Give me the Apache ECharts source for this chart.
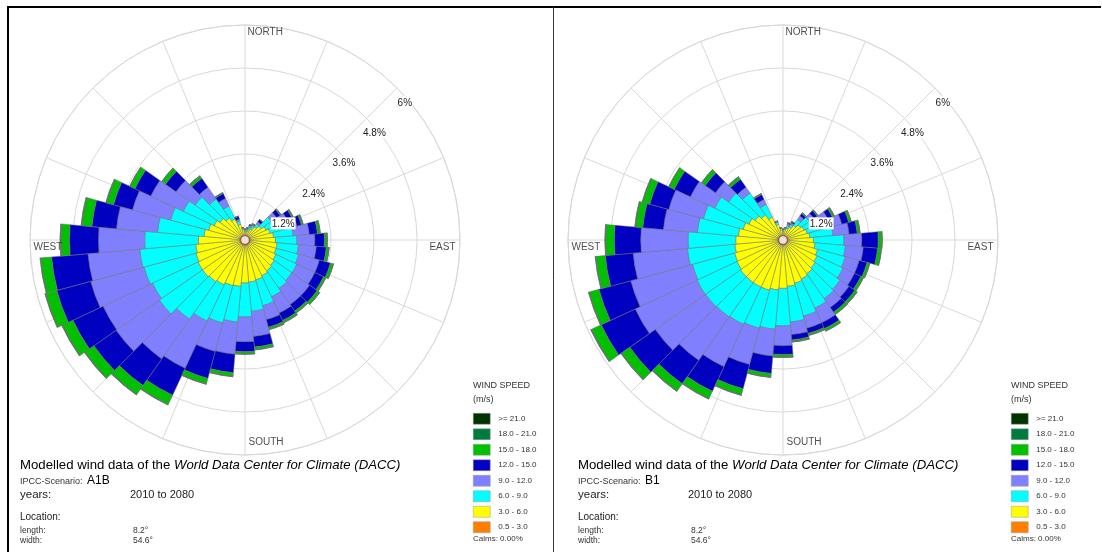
<!DOCTYPE html>
<html>
<head>
<meta charset="utf-8">
<script src="https://cdn.jsdelivr.net/npm/echarts@6/dist/echarts.min.js"></script>
<style>
html, body { margin: 0; padding: 0; background: #fff; }
#chart { width: 1102px; height: 552px; }
</style>
</head>
<body>
<div id="chart"></div>
<script>
// wind directions (sector centres, clockwise from north)
var directions = ['0°','10°','20°','30°','40°','50°','60°','70°','80°','90°','100°','110°',
    '120°','130°','140°','150°','160°','170°','180°','190°','200°','210°','220°','230°',
    '240°','250°','260°','270°','280°','290°','300°','310°','320°','330°','340°','350°'];

// wind speed classes, bottom of the stack first
var speedClasses = ['0.5 - 3.0', '3.0 - 6.0', '6.0 - 9.0', '9.0 - 12.0',
    '12.0 - 15.0', '15.0 - 18.0', '18.0 - 21.0', '>= 21.0'];
var speedColors = ['#ff8000', '#ffff00', '#00ffff', '#8080ff',
    '#0000c0', '#00c000', '#007a3d', '#003300'];

// ring ticks (% of time)
var ringMax = 6;
var ringStep = 1.2;

// compass labels
var compassNames = ['NORTH', 'EAST', 'SOUTH', 'WEST'];
var compassDirs = ['0°', '90°', '180°', '270°'];

/** A1B scenario: frequency (%) per direction for each speed class */
var a1b_05_30 = [0.12,0.12,0.12,0.12,0.12,0.15,0.15,0.15,0.15,0.15,0.15,0.15,0.15,0.15,0.15,0.15,0.15,0.15,0.15,0.15,0.15,0.15,0.15,0.15,0.15,0.15,0.15,0.15,0.15,0.15,0.15,0.15,0.15,0.15,0.12,0.12];
var a1b_30_60 = [0.13,0.13,0.18,0.23,0.33,0.40,0.50,0.57,0.65,0.70,0.75,0.75,0.80,0.85,0.90,0.95,1.00,1.03,1.05,1.15,1.17,1.23,1.27,1.30,1.30,1.27,1.23,1.15,1.00,0.90,0.80,0.70,0.60,0.50,0.33,0.18];
var a1b_60_90 = [0.03,0.05,0.08,0.10,0.10,0.35,0.40,0.48,0.55,0.60,0.60,0.65,0.65,0.60,0.60,0.65,0.75,0.82,0.95,1.00,1.08,1.12,1.28,1.47,1.40,1.50,1.57,1.50,1.30,1.10,0.95,0.85,0.65,0.40,0.10,0.03];
var a1b_90_120 = [0.02,0.03,0.04,0.03,0.07,0.18,0.25,0.30,0.45,0.50,0.50,0.60,0.55,0.60,0.55,0.50,0.40,0.70,0.69,0.90,0.82,1.45,1.35,1.47,1.52,1.54,1.45,1.29,1.15,1.10,1.00,0.65,0.40,0.23,0.05,0.02];
var a1b_120_150 = [0,0.02,0.03,0.02,0.08,0.12,0.15,0.13,0.23,0.27,0.28,0.32,0.27,0.26,0.22,0.23,0.22,0.30,0.28,0.52,0.78,0.83,0.91,0.76,0.93,0.98,1.02,0.81,0.69,0.55,0.49,0.36,0.30,0.15,0.08,0];
var a1b_150_180 = [0,0,0,0,0,0.03,0.04,0.05,0.07,0.07,0.07,0.08,0.06,0.08,0.06,0.06,0.06,0.07,0.06,0.10,0.15,0.28,0.30,0.30,0.32,0.32,0.30,0.24,0.28,0.20,0.15,0.12,0.08,0.03,0.01,0];
var a1b_180_210 = [0,0,0,0,0,0,0,0,0.01,0.01,0.01,0.01,0.01,0.01,0.01,0.01,0.01,0.01,0.01,0.01,0.02,0.02,0.02,0.02,0.02,0.02,0.02,0.02,0.02,0.02,0.01,0.01,0.01,0,0,0];
var a1b_210 = [0,0,0,0,0,0,0,0,0,0,0,0,0,0,0,0,0,0,0,0,0,0,0,0,0,0,0,0,0,0,0,0,0,0,0,0];

/** B1 scenario */
var b1_05_30 = [0.12,0.12,0.12,0.12,0.12,0.15,0.15,0.15,0.15,0.15,0.15,0.15,0.15,0.15,0.15,0.15,0.15,0.15,0.15,0.15,0.15,0.15,0.15,0.15,0.15,0.15,0.15,0.15,0.15,0.15,0.15,0.15,0.15,0.15,0.12,0.12];
var b1_30_60 = [0.13,0.18,0.23,0.28,0.38,0.45,0.50,0.55,0.60,0.70,0.75,0.85,0.90,0.95,1.00,1.05,1.10,1.15,1.20,1.25,1.30,1.30,1.30,1.30,1.27,1.25,1.20,1.17,1.10,1.00,0.90,0.80,0.70,0.55,0.33,0.20];
var b1_60_90 = [0.03,0.03,0.07,0.08,0.20,0.30,0.45,0.60,0.65,0.85,0.85,0.80,0.80,0.85,0.85,0.90,0.95,1.00,1.05,1.10,1.10,1.15,1.17,1.19,1.23,1.22,1.33,1.33,1.15,1.15,1.05,0.90,0.75,0.40,0.07,0.02];
var b1_90_120 = [0.02,0.02,0.05,0.05,0.12,0.15,0.28,0.40,0.45,0.50,0.50,0.40,0.35,0.30,0.30,0.45,0.35,0.35,0.55,0.75,1.05,1.30,1.48,1.71,1.90,1.78,1.52,1.32,0.95,1.00,0.75,0.45,0.20,0.15,0.02,0.01];
var b1_120_150 = [0,0,0.03,0.04,0.08,0.11,0.14,0.20,0.23,0.46,0.40,0.23,0.20,0.20,0.16,0.18,0.15,0.15,0.25,0.49,0.70,0.76,0.80,0.87,1.05,0.92,0.78,0.74,0.58,0.55,0.50,0.35,0.27,0.15,0.01,0];
var b1_150_180 = [0,0,0,0,0.03,0.03,0.06,0.07,0.07,0.10,0.10,0.07,0.07,0.07,0.07,0.07,0.05,0.05,0.07,0.10,0.17,0.22,0.24,0.28,0.30,0.28,0.26,0.24,0.20,0.20,0.16,0.12,0.08,0.03,0,0];
var b1_180_210 = [0,0,0,0,0,0,0,0,0.01,0.01,0.01,0.01,0.01,0.01,0.01,0.01,0.01,0.01,0.01,0.01,0.02,0.02,0.02,0.02,0.02,0.02,0.02,0.02,0.02,0.02,0.01,0.01,0.01,0,0,0];
var b1_210 = [0,0,0,0,0,0,0,0,0,0,0,0,0,0,0,0,0,0,0,0,0,0,0,0,0,0,0,0,0,0,0,0,0,0,0,0];

var a1bSeries = [a1b_05_30, a1b_30_60, a1b_60_90, a1b_90_120, a1b_120_150, a1b_150_180, a1b_180_210, a1b_210];
var b1Series = [b1_05_30, b1_30_60, b1_60_90, b1_90_120, b1_120_150, b1_150_180, b1_180_210, b1_210];

var FONT = "'Liberation Sans', Arial, sans-serif";
var GRID = '#d9d9d9';

// one panel = three polar systems: grid, bars, ring labels
var panels = [
    { key: 'A1B', cx: 245, left: 20, legendLeft: 473, data: a1bSeries },
    { key: 'B1', cx: 783, left: 578, legendLeft: 1011, data: b1Series }
];

var polar = [], angleAxis = [], radiusAxis = [], series = [], legend = [], graphics = [];

panels.forEach(function (p, i) {
    var base = i * 3;
    for (var k = 0; k < 3; k++) {
        polar.push({ center: [p.cx, 240], radius: 215 });
    }
    // grid polar
    angleAxis.push({
        polarIndex: base, type: 'value', min: 0, max: 360, interval: 22.5, startAngle: 90,
        axisLine: { show: true, lineStyle: { color: GRID, width: 1 } },
        axisTick: { show: false }, axisLabel: { show: false },
        splitLine: { show: true, lineStyle: { color: GRID, width: 1 } }
    });
    radiusAxis.push({
        polarIndex: base, type: 'value', min: 0, max: ringMax, interval: ringStep,
        axisLine: { show: false }, axisTick: { show: false }, axisLabel: { show: false },
        splitLine: { show: true, lineStyle: { color: GRID, width: 1 } }
    });
    // bar polar (category 0 centred on north)
    angleAxis.push({
        polarIndex: base + 1, type: 'category', data: directions, startAngle: 95,
        axisLine: { show: false }, axisTick: { show: false }, axisLabel: { show: false },
        splitLine: { show: false }
    });
    radiusAxis.push({
        polarIndex: base + 1, type: 'value', min: 0, max: ringMax,
        axisLine: { show: false }, axisTick: { show: false }, axisLabel: { show: false },
        splitLine: { show: false }
    });
    // ring label polar, labels sit below-right of the 45° crossing
    angleAxis.push({
        polarIndex: base + 2, type: 'value', min: 0, max: 360, startAngle: 45,
        axisLine: { show: false }, axisTick: { show: false }, axisLabel: { show: false },
        splitLine: { show: false }
    });
    radiusAxis.push({
        polarIndex: base + 2, type: 'value', min: 0, max: ringMax, interval: ringStep, z: 10,
        axisLine: { show: false }, axisTick: { show: false }, splitLine: { show: false },
        axisLabel: {
            show: true, showMinLabel: false, margin: -11,
            align: 'center', verticalAlign: 'top',
            fontFamily: FONT, fontSize: 10, color: '#222',
            backgroundColor: '#fff', padding: [2, 1, 0, 1],
            formatter: function (v) { return v + '%'; }
        }
    });

    speedClasses.forEach(function (name, k) {
        series.push({
            type: 'bar', name: name, coordinateSystem: 'polar', polarIndex: base + 1,
            stack: p.key, data: p.data[k], barCategoryGap: '0%',
            itemStyle: { color: speedColors[k], borderColor: '#6e6e6e', borderWidth: 0.5 },
            emphasis: { disabled: true }
        });
    });
    // calm centre
    series.push({
        type: 'scatter', coordinateSystem: 'polar', polarIndex: base + 1,
        data: [[0, directions[0]]], symbolSize: 9, silent: true,
        itemStyle: { color: '#fff', borderColor: '#a0522d', borderWidth: 1.5 }, z: 5
    });
    // compass labels
    var compassLabel = [
        { position: [3, 3], align: 'left' },
        { position: [-4, 3], align: 'right' },
        { position: [4, -17], align: 'left' },
        { position: [4, 3], align: 'left' }
    ];
    series.push({
        type: 'scatter', coordinateSystem: 'polar', polarIndex: base + 1,
        symbolSize: 1, silent: true, itemStyle: { color: 'transparent' },
        data: compassNames.map(function (n, j) {
            return {
                value: [ringMax, compassDirs[j]], name: n,
                label: {
                    show: true, formatter: n, position: compassLabel[j].position,
                    align: compassLabel[j].align, verticalAlign: 'top',
                    fontFamily: FONT, fontSize: 10, color: '#222'
                }
            };
        })
    });

    legend.push({
        orient: 'vertical', left: p.legendLeft, top: 413, padding: 0,
        itemWidth: 17, itemHeight: 11, itemGap: 4, icon: 'rect',
        selectedMode: false,
        data: speedClasses.slice().reverse(),
        textStyle: { fontFamily: FONT, fontSize: 8, color: '#333', padding: [0, 0, 0, 3] },
        itemStyle: { borderColor: '#999', borderWidth: 0.5 }
    });

    var x = p.left;
    var lx = p.legendLeft;
    graphics.push(
        { type: 'text', left: x, top: 459, style: {
            text: '{a|Modelled wind data of the }{b|World Data Center for Climate (DACC)}',
            rich: {
                a: { fontFamily: FONT, fontSize: 13.2, fill: '#000' },
                b: { fontFamily: FONT, fontSize: 13.2, fontStyle: 'italic', fill: '#000' }
            } } },
        { type: 'text', left: x, top: 477, style: { text: 'IPCC-Scenario:', font: '9px ' + FONT, fill: '#333' } },
        { type: 'text', left: x + 67, top: 475, style: { text: p.key, font: '12px ' + FONT, fill: '#000' } },
        { type: 'text', left: x, top: 489, style: { text: 'years:', font: '11.5px ' + FONT, fill: '#222' } },
        { type: 'text', left: x + 110, top: 489, style: { text: '2010 to 2080', font: '11px ' + FONT, fill: '#222' } },
        { type: 'text', left: x, top: 512, style: { text: 'Location:', font: '10px ' + FONT, fill: '#222' } },
        { type: 'text', left: x, top: 526, style: { text: 'length:', font: '8.5px ' + FONT, fill: '#333' } },
        { type: 'text', left: x + 113, top: 526, style: { text: '8.2°', font: '8.5px ' + FONT, fill: '#333' } },
        { type: 'text', left: x, top: 536, style: { text: 'width:', font: '8.5px ' + FONT, fill: '#333' } },
        { type: 'text', left: x + 113, top: 536, style: { text: '54.6°', font: '8.5px ' + FONT, fill: '#333' } },
        { type: 'text', left: lx, top: 381, style: { text: 'WIND SPEED', font: '9px ' + FONT, fill: '#333' } },
        { type: 'text', left: lx, top: 395, style: { text: '(m/s)', font: '9px ' + FONT, fill: '#333' } },
        { type: 'text', left: lx, top: 535, style: { text: 'Calms: 0.00%', font: '8px ' + FONT, fill: '#333' } }
    );
});

// panel frames
graphics.push(
    { type: 'line', shape: { x1: 7, y1: 7, x2: 1101, y2: 7 }, style: { stroke: '#000', lineWidth: 2 } },
    { type: 'line', shape: { x1: 8, y1: 7, x2: 8, y2: 552 }, style: { stroke: '#000', lineWidth: 2 } },
    { type: 'line', shape: { x1: 553.5, y1: 7, x2: 553.5, y2: 552 }, style: { stroke: '#333', lineWidth: 1 } }
);

var myChart = echarts.init(document.getElementById('chart'));
myChart.setOption({
    animation: false,
    backgroundColor: '#fff',
    polar: polar,
    angleAxis: angleAxis,
    radiusAxis: radiusAxis,
    legend: legend,
    series: series,
    graphic: graphics
});
</script>
</body>
</html>
